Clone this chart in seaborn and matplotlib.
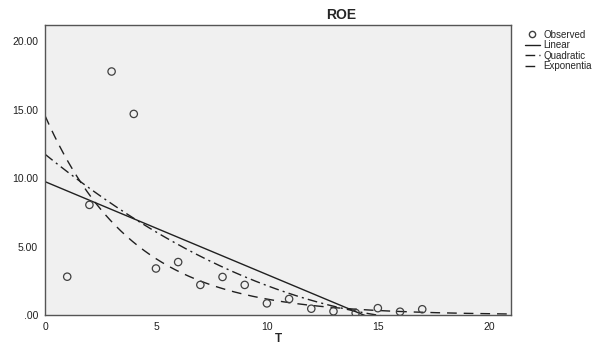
import numpy as np
import pandas as pd
import matplotlib
matplotlib.use("Agg")
import matplotlib.pyplot as plt
import seaborn as sns
from matplotlib.lines import Line2D

# Observed data
t_obs = [1, 2, 3, 4, 5, 6, 7, 8, 9, 10, 11, 12, 13, 14, 15, 16, 17]
roe_obs = [2.8, 8.05, 17.8, 14.7, 3.4, 3.87, 2.2, 2.78, 2.2, 0.85, 1.17,
           0.46, 0.27, 0.15, 0.5, 0.24, 0.42]
x_ticks = [0, 5, 10, 15, 20]
y_ticks = [0, 5, 10, 15, 20]
y_tick_labels = [".00", "5.00", "10.00", "15.00", "20.00"]

sns.set_theme(style="white")
plt.rcParams['font.family'] = ['Liberation Sans', 'DejaVu Sans']

t = np.array(t_obs, dtype=float)
y = np.array(roe_obs, dtype=float)
lin = np.polyfit(t, y, 1)
quad = np.polyfit(t, y, 2)
ex = np.polyfit(t, np.log(y), 1)

grid = np.linspace(0, 21, 400)
fits = pd.DataFrame({
    "T": grid,
    "Linear": np.polyval(lin, grid),
    "Quadratic": np.polyval(quad, grid),
    "Exponential": np.exp(np.polyval(ex, grid)),
})
obs = pd.DataFrame({"T": t_obs, "ROE": roe_obs})

fig = plt.figure(figsize=(6.02, 3.44), dpi=100)
ax = fig.add_axes([0.0748, 0.0843, 0.774, 0.843])
ax.set_facecolor("#f0f0f0")

sns.lineplot(data=fits, x="T", y="Linear", ax=ax, color="#202020", lw=1.0)
sns.lineplot(data=fits, x="T", y="Quadratic", ax=ax, color="#202020", lw=1.0,
             dashes=False, linestyle=(0, (7, 3, 1.5, 3)))
sns.lineplot(data=fits, x="T", y="Exponential", ax=ax, color="#202020", lw=1.0,
             linestyle=(0, (7, 5)))
sns.scatterplot(data=obs, x="T", y="ROE", ax=ax, marker="o", s=28,
                facecolor="none", edgecolor="#404040", linewidth=0.9, zorder=5)

ax.set_xlim(0, 21)
ax.set_ylim(0, 21.2)
ax.set_xticks(x_ticks)
ax.set_xticklabels([str(v) for v in x_ticks], fontsize=7.5, color="#202020")
ax.set_yticks(y_ticks)
ax.set_yticklabels(y_tick_labels, fontsize=7.5, color="#202020")
ax.tick_params(direction="out", length=4, width=0.8, color="#404040", pad=1)
for s in ax.spines.values():
    s.set_color("#555555")
    s.set_linewidth(1.0)
ax.set_xlabel("T", fontsize=8.5, fontweight="bold", labelpad=0)
ax.xaxis.set_label_coords(0.502, -0.062)
ax.set_ylabel("")
ax.set_title("ROE", fontsize=10, fontweight="bold", pad=4, x=0.635)

handles = [
    Line2D([], [], marker="o", linestyle="none", markerfacecolor="none",
           markeredgecolor="#404040", markersize=4.5),
    Line2D([], [], color="#202020", lw=1.0),
    Line2D([], [], color="#202020", lw=1.0, linestyle=(0, (7, 3, 1.5, 3))),
    Line2D([], [], color="#202020", lw=1.0, linestyle=(0, (7, 5))),
]
fig.legend(handles, ["Observed", "Linear", "Quadratic", "Exponentia"],
           loc="upper left", bbox_to_anchor=(0.865, 0.925), frameon=False,
           fontsize=7, handlelength=1.6, handletextpad=0.3, labelspacing=0.05,
           borderaxespad=0)

fig.savefig("out.png", dpi=100)
